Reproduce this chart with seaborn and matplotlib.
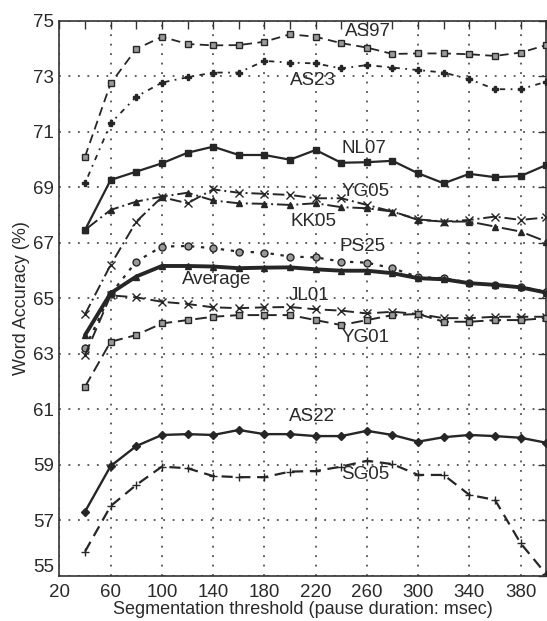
#!/usr/bin/env python3
"""Word accuracy vs. segmentation threshold, per speaker."""

import pandas as pd
import seaborn as sns
import matplotlib.pyplot as plt
from matplotlib.ticker import MultipleLocator

THRESHOLDS = [40, 60, 80, 100, 120, 140, 160, 180, 200, 220,
              240, 260, 280, 300, 320, 340, 360, 380, 400]

AS97 = [70.1, 72.74, 73.98, 74.42, 74.16, 74.11, 74.12, 74.24, 74.51, 74.42,
        74.19, 74.03, 73.8, 73.82, 73.82, 73.79, 73.73, 73.85, 74.12]
AS23 = [69.14, 71.3, 72.26, 72.77, 72.96, 73.13, 73.13, 73.55, 73.49, 73.46,
        73.28, 73.4, 73.31, 73.22, 73.13, 72.89, 72.53, 72.53, 72.8]
NL07 = [67.46, 69.26, 69.56, 69.86, 70.24, 70.46, 70.16, 70.16, 69.99, 70.34,
        69.88, 69.9, 69.95, 69.5, 69.14, 69.48, 69.36, 69.4, 69.8]
YG05 = [64.42, 66.2, 67.76, 68.64, 68.42, 68.92, 68.8, 68.76, 68.72, 68.6,
        68.6, 68.36, 68.12, 67.84, 67.76, 67.82, 67.94, 67.82, 67.91]
KK05 = [67.46, 68.18, 68.48, 68.66, 68.8, 68.52, 68.42, 68.4, 68.36, 68.42,
        68.28, 68.24, 68.12, 67.82, 67.76, 67.76, 67.58, 67.4, 67.04]
PS25 = [63.2, 65.15, 66.32, 66.86, 66.88, 66.8, 66.68, 66.64, 66.5, 66.47,
        66.32, 66.28, 66.08, 65.76, 65.72, 65.56, 65.46, 65.42, 65.23]
AVERAGE = [63.67, 65.18, 65.78, 66.16, 66.16, 66.14, 66.08, 66.1, 66.11, 66.04,
           65.99, 65.99, 65.9, 65.72, 65.68, 65.54, 65.48, 65.39, 65.2]
JL01 = [62.95, 65.1, 65.03, 64.87, 64.79, 64.67, 64.64, 64.67, 64.68, 64.6,
        64.55, 64.45, 64.51, 64.43, 64.28, 64.28, 64.33, 64.33, 64.33]
YG01 = [61.81, 63.43, 63.67, 64.09, 64.21, 64.33, 64.39, 64.39, 64.39, 64.21,
        64.03, 64.21, 64.39, 64.43, 64.15, 64.15, 64.21, 64.21, 64.28]
AS22 = [57.31, 58.95, 59.67, 60.07, 60.1, 60.07, 60.25, 60.1, 60.1, 60.03,
        60.03, 60.22, 60.07, 59.83, 59.99, 60.07, 60.03, 59.97, 59.79]
SG05 = [55.87, 57.51, 58.27, 58.93, 58.87, 58.59, 58.55, 58.55, 58.75, 58.77,
        58.93, 59.14, 59.02, 58.63, 58.63, 57.91, 57.73, 56.17, 55.05]

SERIES = {
    "AS97": AS97, "AS23": AS23, "NL07": NL07, "YG05": YG05, "KK05": KK05,
    "PS25": PS25, "Average": AVERAGE, "JL01": JL01, "YG01": YG01,
    "AS22": AS22, "SG05": SG05,
}

# label anchor (x, y) in data units
LABEL_POS = {
    "AS97": (261, 74.62), "AS23": (218, 72.83), "NL07": (258, 70.4),
    "YG05": (259, 68.84), "KK05": (218, 67.76), "PS25": (257, 66.86),
    "Average": (143, 65.69), "JL01": (215, 65.09), "YG01": (259, 63.58),
    "AS22": (217, 60.73), "SG05": (259, 58.63),
}

INK = "#262626"
STYLES = {
    "AS97": dict(linestyle=(0, (5, 3)), marker="s", mfc="#9a9a9a", ms=5, lw=1.3),
    "AS23": dict(linestyle=(0, (1, 3, 3, 3)), marker="P", mfc=INK, ms=5, lw=1.3),
    "NL07": dict(linestyle="-", marker="s", mfc=INK, ms=5, lw=1.6),
    "YG05": dict(linestyle=(0, (6, 2, 1, 2)), marker="x", mfc=INK, ms=6, lw=1.4),
    "KK05": dict(linestyle=(0, (8, 2, 1, 2)), marker="^", mfc=INK, ms=5, lw=1.4),
    "PS25": dict(linestyle=(0, (1.5, 3)), marker="o", mfc="#9a9a9a", ms=5, lw=1.6),
    "Average": dict(linestyle="-", marker="^", mfc=INK, ms=4, lw=2.8),
    "JL01": dict(linestyle=(0, (6, 3)), marker="x", mfc=INK, ms=6, lw=1.4),
    "YG01": dict(linestyle=(0, (6, 3)), marker="s", mfc="#9a9a9a", ms=5, lw=1.4),
    "AS22": dict(linestyle="-", marker="D", mfc=INK, ms=4, lw=1.7),
    "SG05": dict(linestyle=(0, (5, 3)), marker="+", mfc=INK, ms=6, lw=1.6),
}


def main() -> None:
    sns.set_theme(style="white")
    plt.rcParams["font.family"] = ["Liberation Sans", "DejaVu Sans"]

    fig = plt.figure(figsize=(5.47, 6.21), dpi=100)
    ax = fig.add_axes([0.1086, 0.073, 0.89, 0.8937])

    for name, values in SERIES.items():
        st = STYLES[name]
        df = pd.DataFrame({"threshold": THRESHOLDS, "accuracy": values})
        sns.lineplot(
            data=df, x="threshold", y="accuracy", ax=ax, color=INK,
            linestyle=st["linestyle"], linewidth=st["lw"], marker=st["marker"],
            markersize=st["ms"], markerfacecolor=st["mfc"],
            markeredgecolor=INK, markeredgewidth=1.0, zorder=3,
        )
        lx, ly = LABEL_POS[name]
        ax.text(lx, ly, name, ha="center", va="center", fontsize=13.5,
                color="#2a2a2a", zorder=4)

    ax.set_xlim(20, 400)
    ax.set_ylim(55, 75)
    ax.set_xticks(range(20, 400, 40))
    ax.xaxis.set_minor_locator(MultipleLocator(20))
    ax.set_yticks(range(55, 76, 2))

    ax.grid(True, which="major", color="#333333", linestyle=(0, (1.2, 5)),
            linewidth=1.1)
    ax.tick_params(which="both", direction="in", top=True, right=True,
                   color="#333333", labelsize=13.5, labelcolor="#2a2a2a")
    ax.tick_params(which="major", length=6, width=1)
    ax.tick_params(which="minor", length=6, width=1)
    ax.tick_params(axis="x", which="major", pad=6)
    ax.tick_params(axis="y", which="major", pad=4)
    # lift the bottom-left "55" a little so it clears the "20" below it
    ax.get_yticklabels()[0].set_verticalalignment("bottom")
    for spine in ax.spines.values():
        spine.set_color("#333333")
        spine.set_linewidth(1.2)

    ax.set_xlabel("Segmentation threshold (pause duration: msec)",
                  fontsize=13, color="#2a2a2a", labelpad=0)
    ax.set_ylabel("Word Accuracy (%)", fontsize=13, color="#2a2a2a",
                  labelpad=2)

    fig.savefig("out.png", dpi=100)
    plt.close(fig)


if __name__ == "__main__":
    main()
